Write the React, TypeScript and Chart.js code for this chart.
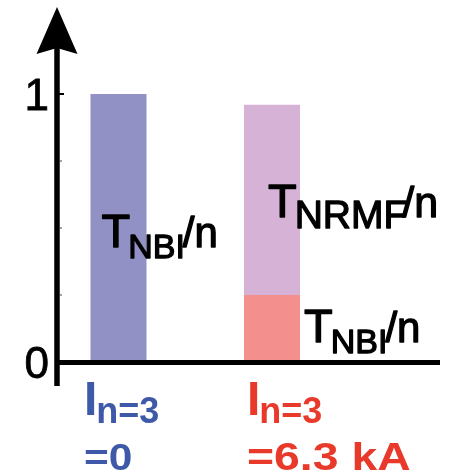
import { useEffect, useRef } from 'react';
import { Chart, BarController, BarElement, CategoryScale, LinearScale } from 'chart.js';

Chart.register(BarController, BarElement, CategoryScale, LinearScale);

// Two coil-current cases, each a stacked bar of normalised toroidal torque
const categories = ['I_n=3 = 0', 'I_n=3 = 6.3 kA'];
const currentSymbol = 'I';
const currentSubscript = 'n=3';
const currentValues = ['=0', '=6.3 kA'];

// Torque components (T/n), in units of the NBI torque of the first case
const seriesNames = ['NBI', 'NRMF'];
const nbiTorque = [1.0, 0.25];
const nrmfTorque = [0, 0.71];

// Y axis ticks
const yTickValues = [0, 0.25, 0.5, 0.75, 1];
const yTickLabels = ['0', '', '', '', '1'];

const nbiColors = ['#9191c6', '#f3908d'];
const nrmfColor = '#d6b3d6';
const caseColors = ['#3d59a8', '#e9392b'];

const FONT = '"Liberation Sans", Arial, Helvetica, sans-serif';
const AXIS_X = 57;
const BASELINE_END = 440;

type Seg = {
  text: string;
  size: number;
  weight?: string;
  dy?: number;
  dx?: number;
  stretch?: number;
  outline?: number;
};

// Draws a run of text pieces side by side (used for subscripts)
function drawRich(ctx: CanvasRenderingContext2D, x: number, y: number, segs: Seg[], color: string) {
  let cx = x;
  ctx.fillStyle = color;
  ctx.strokeStyle = color;
  ctx.lineJoin = 'round';
  ctx.textAlign = 'left';
  ctx.textBaseline = 'alphabetic';
  for (const s of segs) {
    cx += s.dx ?? 0;
    const sx = s.stretch ?? 1;
    ctx.font = `${s.weight ?? 'normal'} ${s.size}px ${FONT}`;
    ctx.save();
    ctx.translate(cx, y + (s.dy ?? 0));
    ctx.scale(sx, 1);
    ctx.fillText(s.text, 0, 0);
    if (s.outline) {
      ctx.lineWidth = s.outline;
      ctx.strokeText(s.text, 0, 0);
    }
    ctx.restore();
    cx += ctx.measureText(s.text).width * sx;
  }
}

// Where each torque label sits relative to its bar segment
const segmentLabels = [
  { dataset: 0, index: 0, side: 'inside', dx: 11, dy: 19, subSize: 34, tailSize: 42, tailDx: -2 },
  { dataset: 1, index: 1, side: 'inside', dx: 24, dy: 17, subSize: 39, tailSize: 43, tailDx: -5 },
  { dataset: 0, index: 1, side: 'outside', dx: 4, dy: 13.5, subSize: 34, tailSize: 42, tailDx: -2 },
];

const LABEL_OUTLINE = 1.3;

const axesAndLabels = {
  id: 'axesAndLabels',
  afterDatasetsDraw(chart: any) {
    const { ctx, scales } = chart;
    const x = scales.x;
    const y = scales.y;
    const zeroY = y.getPixelForValue(0);
    ctx.save();

    // Baseline
    ctx.strokeStyle = '#000';
    ctx.lineWidth = 5;
    ctx.beginPath();
    ctx.moveTo(AXIS_X, zeroY + 0.5);
    ctx.lineTo(BASELINE_END, zeroY + 0.5);
    ctx.stroke();

    // Vertical axis with arrow head
    ctx.lineWidth = 5.5;
    ctx.beginPath();
    ctx.moveTo(AXIS_X, zeroY + 24);
    ctx.lineTo(AXIS_X, 48);
    ctx.stroke();
    ctx.fillStyle = '#000';
    ctx.beginPath();
    ctx.moveTo(AXIS_X, 7);
    ctx.lineTo(AXIS_X + 20.5, 54);
    ctx.lineTo(AXIS_X, 48);
    ctx.lineTo(AXIS_X - 20.5, 54);
    ctx.closePath();
    ctx.fill();

    // Ticks and tick labels
    yTickValues.forEach((v, i) => {
      const py = y.getPixelForValue(v);
      if (yTickLabels[i]) {
        ctx.fillStyle = '#000';
        if (v !== 0) ctx.fillRect(AXIS_X, py - 1, 7, 2);
        ctx.font = `normal 44px ${FONT}`;
        ctx.textAlign = 'right';
        ctx.textBaseline = 'alphabetic';
        ctx.fillText(yTickLabels[i], 49, py + 44 * 0.36);
        ctx.lineWidth = 0.8;
        ctx.strokeStyle = '#000';
        ctx.strokeText(yTickLabels[i], 49, py + 44 * 0.36);
      } else {
        ctx.fillStyle = '#444';
        ctx.fillRect(AXIS_X + 2, py - 0.5, 3, 1);
      }
    });

    // Torque labels on the bar segments
    segmentLabels.forEach((l) => {
      const el = chart.getDatasetMeta(l.dataset).data[l.index];
      if (!el) return;
      const left = l.side === 'inside' ? el.x - el.width / 2 + l.dx : el.x + el.width / 2 + l.dx;
      const base = (el.y + el.base) / 2 + l.dy;
      drawRich(
        ctx,
        left,
        base,
        [
          { text: 'T', size: 47, outline: LABEL_OUTLINE },
          { text: seriesNames[l.dataset], size: l.subSize, dy: 11, dx: -2, outline: LABEL_OUTLINE },
          { text: '/n', size: l.tailSize, dx: l.tailDx, outline: LABEL_OUTLINE },
        ],
        '#000',
      );
    });

    // Category labels under the axis
    const catOffsets = [-34.5, -25];
    const valueSizes = [36, 38];
    const valueStretch = [1.18, 1.22];
    categories.forEach((_, i) => {
      const cx = x.getPixelForValue(i) + catOffsets[i];
      drawRich(
        ctx,
        cx,
        zeroY + 53,
        [
          { text: currentSymbol, size: 48, weight: 'bold' },
          { text: currentSubscript, size: 36, weight: 'bold', dy: 8, dx: -1 },
        ],
        caseColors[i],
      );
      drawRich(
        ctx,
        cx,
        zeroY + 108,
        [{ text: currentValues[i], size: valueSizes[i], weight: 'bold', stretch: valueStretch[i] }],
        caseColors[i],
      );
    });

    ctx.restore();
  },
};

export default function App() {
  const ref = useRef<HTMLCanvasElement>(null);

  useEffect(() => {
    const chart = new Chart(ref.current!, {
      type: 'bar',
      data: {
        labels: categories,
        datasets: [
          {
            label: 'T_NBI/n',
            data: nbiTorque,
            backgroundColor: nbiColors,
            borderWidth: 0,
          },
          {
            label: 'T_NRMF/n',
            data: nrmfTorque,
            backgroundColor: nrmfColor,
            borderWidth: 0,
          },
        ],
      },
      options: {
        responsive: false,
        animation: false,
        devicePixelRatio: 1,
        layout: { padding: { left: 41.75, right: 102.25, top: 27, bottom: 112 } },
        datasets: { bar: { barPercentage: 0.365, categoryPercentage: 1 } },
        scales: {
          x: { type: 'category', stacked: true, display: false },
          y: { type: 'linear', stacked: true, min: 0, max: 1.25, display: false },
        },
        plugins: { legend: { display: false }, tooltip: { enabled: false } },
      },
      plugins: [axesAndLabels],
    });
    return () => chart.destroy();
  }, []);

  return (
    <div style={{ position: 'absolute', left: 0, top: 0, width: 451, height: 474, background: '#fff' }}>
      <canvas ref={ref} width={451} height={474} style={{ display: 'block', width: 451, height: 474 }} />
    </div>
  );
}
